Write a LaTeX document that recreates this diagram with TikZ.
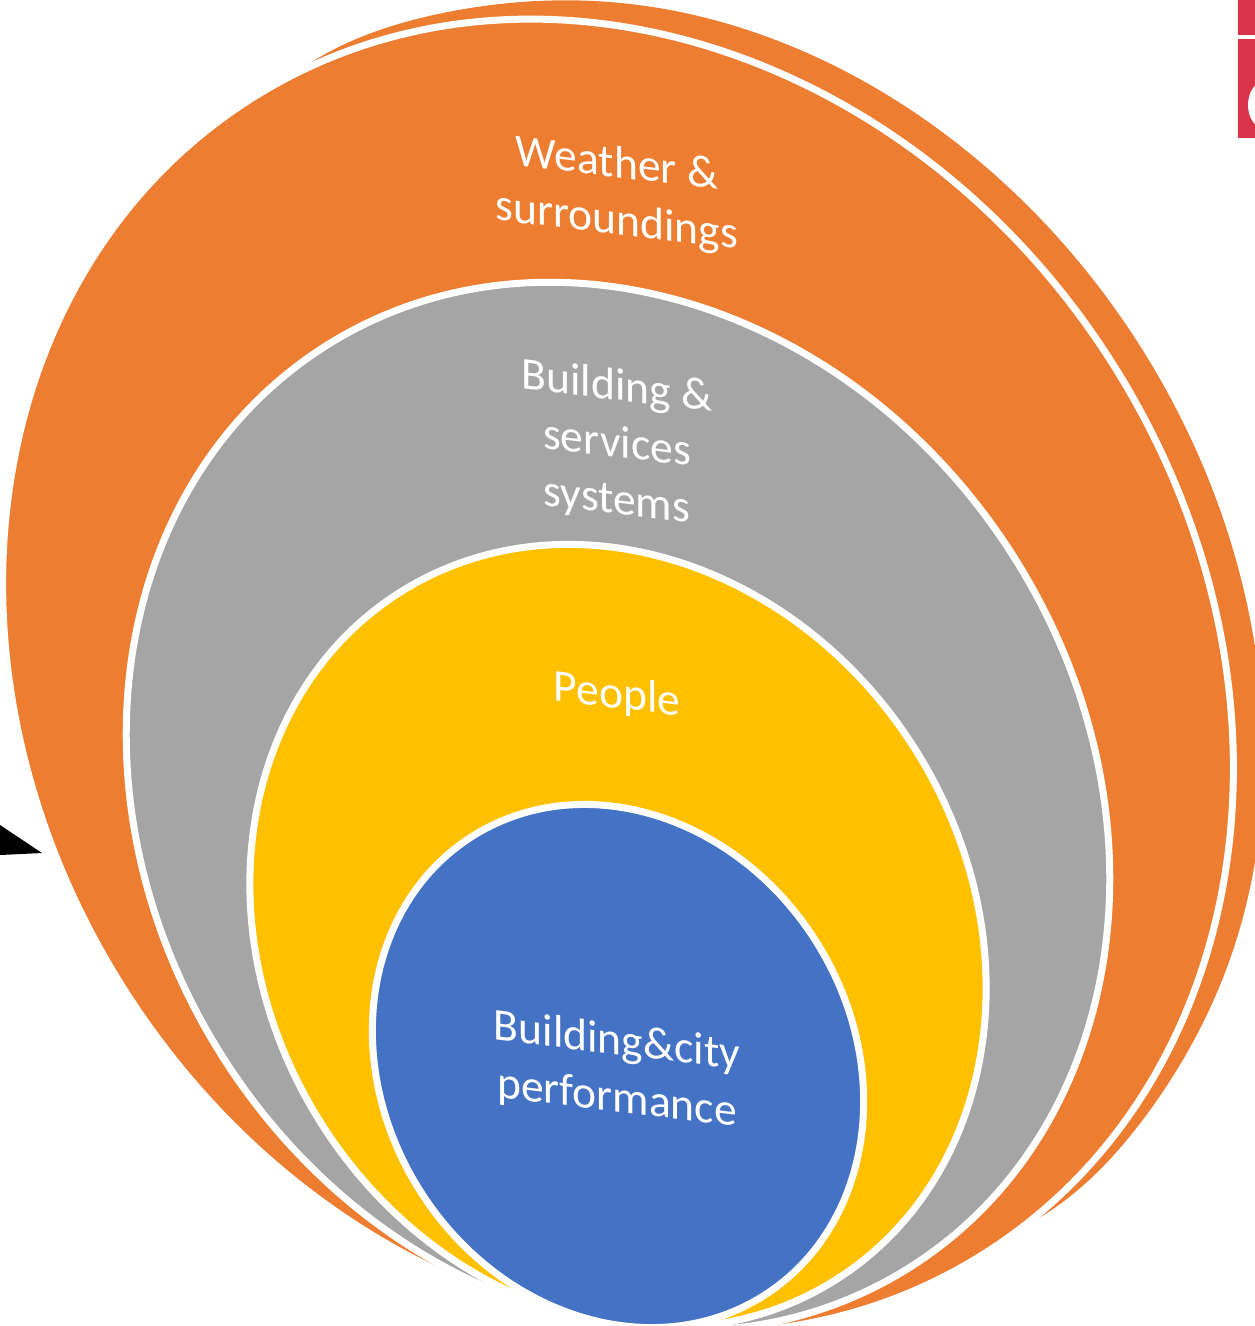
\documentclass[tikz,border=0pt]{standalone}
\usepackage{fontspec}
\setmainfont{Carlito}
\definecolor{orng}{HTML}{ED7D31}
\definecolor{gry}{HTML}{A5A5A5}
\definecolor{yel}{HTML}{FFC000}
\definecolor{blu}{HTML}{4472C4}
\definecolor{rd}{HTML}{D9344A}
\tikzset{
  x=1pt,y=1pt,
  ringline/.style={draw=white,line width=7pt},
  label/.style={text=white,font=\fontsize{45.6}{57}\selectfont,align=center,yslant=-0.12,transform shape,inner sep=0pt}
}
\newcommand{\tiltell}[5]{\path[fill=#5,ringline,rotate around={32.6:(#1,#2)}] (#1,#2) ellipse [x radius=#4,y radius=#3];}
\begin{document}
\begin{tikzpicture}
\useasboundingbox (0,0) rectangle (1255,-1326);
\begin{scope}
\clip (0,0) rectangle (1255,-1326);
\fill[rd] (1238,0) rectangle (1255,-35);
\fill[rd] (1238,-39) rectangle (1255,-138);
\fill[white] (1262,-105) ellipse [x radius=14,y radius=22];
\fill[black] (0,-825) -- (42,-853) -- (0,-855) -- cycle;
\fill[orng,shift={(677,-639)},rotate=32.6]
  plot[domain=0:358,samples=180,smooth cycle,variable=\t]
  ({548*cos(\t)},{sin(\t)*(672+11*pow(sin(\t),30))});
\tiltell{618}{-676}{684}{585}{orng}
\tiltell{618}{-806.5}{545.5}{468}{gry}
\tiltell{618}{-936}{407}{351}{yel}
\tiltell{618}{-1066}{272}{234}{blu}
\end{scope}
\node[label] (weather) at (617,-194) {Weather \&\\surroundings};
\node[label] (building) at (617,-445) {Building \&\\services\\systems};
\node[label] (people) at (617,-696) {People};
\node[label] (perf) at (617,-1071) {Building\&city\\performance};
\end{tikzpicture}
\end{document}
